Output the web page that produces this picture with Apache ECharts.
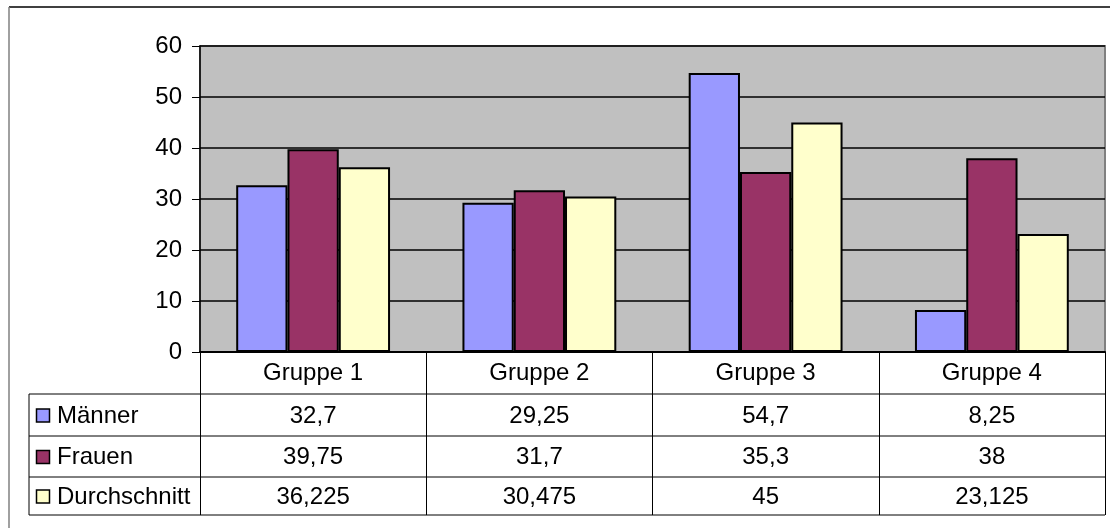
<!DOCTYPE html>
<html>
<head>
<meta charset="utf-8">
<script src="https://cdn.jsdelivr.net/npm/echarts@6/dist/echarts.min.js"></script>
<style>
  html, body { margin: 0; padding: 0; background: #fff; }
  #chart { width: 1110px; height: 528px; }
</style>
</head>
<body>
<div id="chart"></div>
<script>
// data
const categories = ['Gruppe 1', 'Gruppe 2', 'Gruppe 3', 'Gruppe 4']
const seriesNames = ['Männer', 'Frauen', 'Durchschnitt']
const maenner = [32.7, 29.25, 54.7, 8.25]
const frauen = [39.75, 31.7, 35.3, 38]
const durchschnitt = [36.225, 30.475, 45, 23.125]
const yTicks = [0, 10, 20, 30, 40, 50, 60]

const colors = ['#9999ff', '#993366', '#ffffcc']
const FONT = '"Liberation Sans", Arial, sans-serif'
const FS = 24

// layout of plot + table
const plotLeft = 200, plotRight = 1105, plotTop = 46, plotBottom = 352
const tableLeft = 29
const rowLines = [394, 436, 477, 515]

const chart = echarts.init(document.getElementById('chart'))

const fmt = (v) => String(v).replace('.', ',')

const barSeries = (name, data, color) => ({
  name,
  type: 'bar',
  data,
  barGap: '0%',
  barCategoryGap: '32%',
  itemStyle: { color, borderColor: '#000', borderWidth: 2 },
  emphasis: { disabled: true },
})

chart.setOption({
  animation: false,
  textStyle: { fontFamily: FONT },
  grid: {
    left: plotLeft,
    right: 1110 - plotRight,
    top: plotTop,
    bottom: 528 - plotBottom,
    show: true,
    backgroundColor: '#c0c0c0',
    borderColor: '#808080',
    borderWidth: 2,
  },
  xAxis: {
    type: 'category',
    data: categories,
    axisLine: { lineStyle: { color: '#000', width: 2 } },
    // ticks stretched down to become the table's column lines
    axisTick: { show: true, length: rowLines[3] - plotBottom, lineStyle: { color: '#000', width: 1 } },
    axisLabel: { color: '#000', fontSize: FS, fontFamily: FONT, margin: 9, lineHeight: 24 },
  },
  yAxis: {
    type: 'value',
    min: yTicks[0],
    max: yTicks[yTicks.length - 1],
    interval: 10,
    axisLine: { show: true, lineStyle: { color: '#000', width: 1.5 } },
    axisTick: { show: true, length: 8, lineStyle: { color: '#000' } },
    axisLabel: { color: '#000', fontSize: FS, fontFamily: FONT, margin: 18 },
    splitLine: { lineStyle: { color: '#000', width: 1.5 } },
  },
  series: [
    barSeries(seriesNames[0], maenner, colors[0]),
    barSeries(seriesNames[1], frauen, colors[1]),
    barSeries(seriesNames[2], durchschnitt, colors[2]),
  ],
})

// data table below the plot
const rows = [maenner, frauen, durchschnitt]
const graphics = []

// outer frame
graphics.push({ type: 'line', shape: { x1: 9, y1: 7, x2: 1110, y2: 7 }, style: { stroke: '#000', lineWidth: 1.5 } })
graphics.push({ type: 'line', shape: { x1: 9, y1: 7, x2: 9, y2: 528 }, style: { stroke: '#808080', lineWidth: 1.5 } })

// horizontal table lines
rowLines.forEach((y) => {
  graphics.push({ type: 'line', shape: { x1: tableLeft, y1: y, x2: plotRight, y2: y }, style: { stroke: '#000', lineWidth: 1 } })
})
graphics.push({ type: 'line', shape: { x1: tableLeft, y1: rowLines[0], x2: tableLeft, y2: rowLines[3] }, style: { stroke: '#000', lineWidth: 1 } })

rows.forEach((vals, r) => {
  const yc = (rowLines[r] + rowLines[r + 1]) / 2
  // legend key + name
  graphics.push({
    type: 'rect',
    shape: { x: 36.5, y: yc - 6, width: 13, height: 13 },
    style: { fill: colors[r], stroke: '#000', lineWidth: 1.5 },
  })
  graphics.push({
    type: 'text',
    x: 57, y: yc + 1,
    style: { text: seriesNames[r], fill: '#000', font: `${FS}px ${FONT}`, verticalAlign: 'middle' },
  })
  vals.forEach((v, i) => {
    const xc = chart.convertToPixel({ xAxisIndex: 0 }, categories[i])
    graphics.push({
      type: 'text',
      x: xc, y: yc + 1,
      style: { text: fmt(v), fill: '#000', font: `${FS}px ${FONT}`, align: 'center', verticalAlign: 'middle' },
    })
  })
})

chart.setOption({ graphic: graphics })
</script>
</body>
</html>
